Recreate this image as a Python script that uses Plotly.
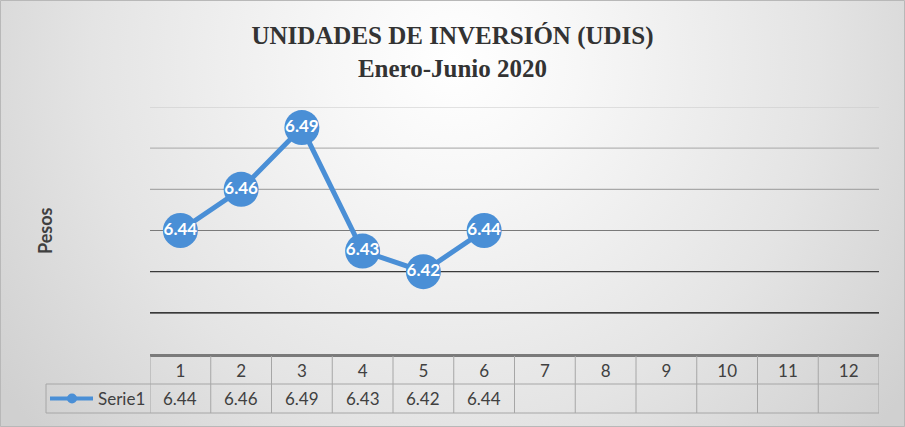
import base64
import plotly.graph_objects as go

# ---- data ----
months = [1, 2, 3, 4, 5, 6, 7, 8, 9, 10, 11, 12]
month_labels = ["1", "2", "3", "4", "5", "6", "7", "8", "9", "10", "11", "12"]
serie1 = [6.44, 6.46, 6.49, 6.43, 6.42, 6.44]
series_name = "Serie1"
grid_values = [6.40, 6.42, 6.44, 6.46, 6.48, 6.50]
grid_colors = ["#000000", "#3a3a3a", "#7a7a7a", "#a8a8a8", "#b4b4b4", "#c8c8c8"]
y_range = [6.38, 6.50]
title_text = "UNIDADES DE INVERSIÓN (UDIS)<br>Enero-Junio 2020"
y_title = "Pesos"

# ---- layout geometry (pixels) ----
W, H = 905, 427
ML, MR, MT, MB = 150, 26, 107, 73
PW = W - ML - MR
PH = H - MT - MB
BLUE = "#4a8fd6"
TXT = "#404040"
TABLE_LINE = "#a6a6a6"
FONT = "Lato, Noto Sans, sans-serif"


def px_x(px):
    return (px - ML) / PW


def px_y(py):
    return (H - MB - py) / PH


# background radial gradient as SVG
svg = f'''<svg xmlns="http://www.w3.org/2000/svg" width="{W}" height="{H}">
<defs><radialGradient id="g" gradientUnits="userSpaceOnUse" cx="455" cy="60" r="560">
<stop offset="0" stop-color="#ffffff"/><stop offset="0.22" stop-color="#f7f7f7"/>
<stop offset="0.65" stop-color="#e4e4e4"/><stop offset="1" stop-color="#d0d0d0"/></radialGradient></defs>
<rect width="{W}" height="{H}" fill="url(#g)"/></svg>'''
src = "data:image/svg+xml;base64," + base64.b64encode(svg.encode()).decode()

fig = go.Figure()
fig.add_trace(go.Scatter(
    x=months[:len(serie1)], y=serie1, mode="lines+markers+text",
    name=series_name,
    line=dict(color=BLUE, width=5),
    marker=dict(size=35, color=BLUE),
    text=[f"{v:.2f}" for v in serie1], textposition="middle center",
    textfont=dict(family=FONT, size=17, color="white", weight="bold"),
    cliponaxis=False, showlegend=False, hoverinfo="skip",
))

shapes = []
# gridlines
for gv, gc in zip(grid_values, grid_colors):
    shapes.append(dict(type="line", xref="paper", yref="y", x0=0, x1=1, y0=gv, y1=gv,
                       line=dict(color=gc, width=1.2), layer="below"))

# data table
row1_top, row1_bot, row2_bot = 356, 384, 413
row2_mid = (row1_bot + row2_bot) / 2
leg_left = 46
xmin = months[0] - 0.5
xmax = months[-1] + 0.5
for yy in (row1_bot, row2_bot):
    shapes.append(dict(type="line", xref="paper", yref="paper", x0=px_x(leg_left), x1=1,
                       y0=px_y(yy), y1=px_y(yy), line=dict(color=TABLE_LINE, width=1)))
for m in months + [months[-1] + 1]:
    shapes.append(dict(type="line", xref="x", yref="paper", x0=m - 0.5, x1=m - 0.5,
                       y0=px_y(row1_top), y1=px_y(row2_bot), line=dict(color=TABLE_LINE, width=1)))
shapes.append(dict(type="line", xref="paper", yref="paper", x0=px_x(leg_left), x1=px_x(leg_left),
                   y0=px_y(row1_bot), y1=px_y(row2_bot), line=dict(color=TABLE_LINE, width=1)))
# legend key in table
ly = px_y(row2_mid)
shapes.append(dict(type="line", xref="paper", yref="paper", x0=px_x(50), x1=px_x(93), y0=ly, y1=ly,
                   line=dict(color=BLUE, width=4)))
shapes.append(dict(type="circle", xref="paper", yref="paper", xsizemode="pixel", ysizemode="pixel",
                   xanchor=px_x(72), yanchor=ly, x0=-5, x1=5, y0=-5, y1=5,
                   fillcolor=BLUE, line=dict(width=0)))
# outer border
shapes.append(dict(type="rect", xref="paper", yref="paper", x0=px_x(0.5), x1=px_x(W - 0.5),
                   y0=px_y(0.5), y1=px_y(H - 0.5), line=dict(color="#b8b8b8", width=1)))

annotations = []
for i, v in enumerate(serie1):
    annotations.append(dict(x=months[i], y=ly, xref="x", yref="paper",
                            xanchor="center", yanchor="middle",
                            text=f"{v:.2f}", showarrow=False,
                            font=dict(family=FONT, size=17, color=TXT)))
annotations.append(dict(x=px_x(96), y=ly, xref="paper", yref="paper", xanchor="left", yanchor="middle",
                        text=series_name, showarrow=False,
                        font=dict(family=FONT, size=17, color=TXT)))
annotations.append(dict(x=px_x(45), y=px_y(230), xref="paper", yref="paper", textangle=-90,
                        xanchor="center", yanchor="middle",
                        text=f"<b>{y_title}</b>", showarrow=False,
                        font=dict(family=FONT, size=18, color=TXT)))

fig.update_layout(
    width=W, height=H,
    margin=dict(l=ML, r=MR, t=MT, b=MB, autoexpand=False),
    paper_bgcolor="#e4e4e4",
    plot_bgcolor="rgba(0,0,0,0)",
    title=dict(text=f"<b>{title_text}</b>", x=0.5, xanchor="center",
               yref="container", y=1 - 44 / H, yanchor="middle",
               font=dict(family="Liberation Serif, Times New Roman, serif", size=25, color="#333333")),
    xaxis=dict(range=[xmin, xmax], tickmode="array", tickvals=months, ticktext=month_labels,
               showgrid=False, zeroline=False, showline=True, linecolor="#7a7a7a", linewidth=3,
               ticks="", ticklabelstandoff=0,
               tickfont=dict(family=FONT, size=17, color=TXT)),
    yaxis=dict(range=y_range, showgrid=False, zeroline=False, showticklabels=False, showline=False),
    shapes=shapes,
    annotations=annotations,
    images=[dict(source=src, xref="paper", yref="paper", x=px_x(0), y=px_y(0),
                 sizex=W / PW, sizey=H / PH, xanchor="left", yanchor="top",
                 sizing="stretch", layer="below")],
)

fig.write_html("out.html", config={"displayModeBar": False},
               post_script="document.body.style.margin='0';document.body.style.overflow='hidden';")
